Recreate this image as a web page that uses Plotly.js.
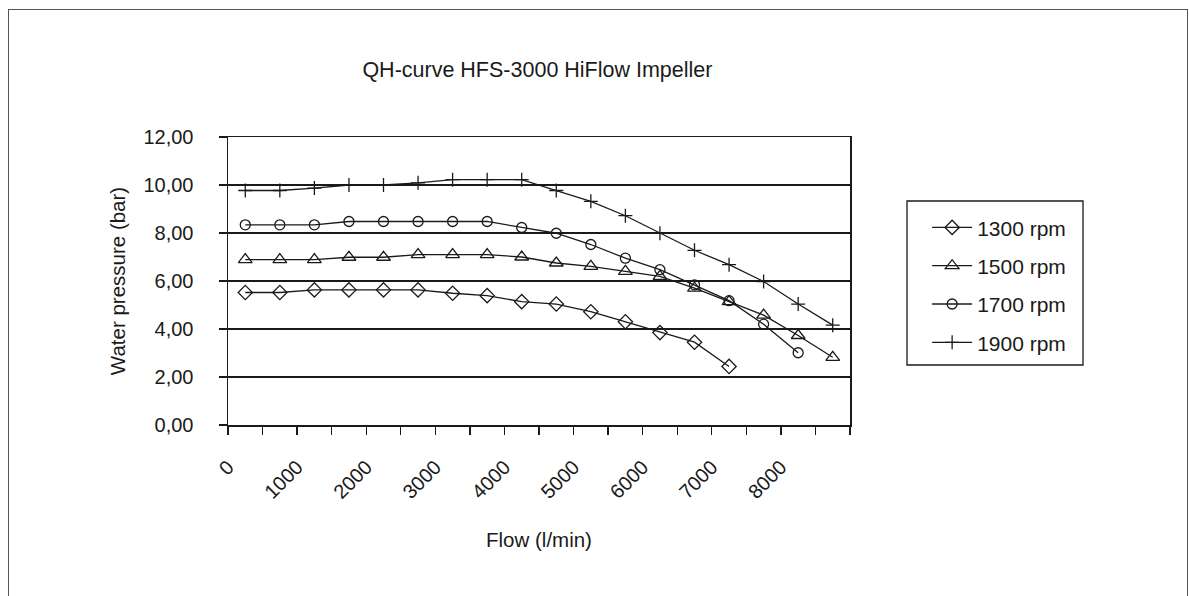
<!DOCTYPE html>
<html>
<head>
<meta charset="utf-8">
<script src="https://cdn.plot.ly/plotly-3.0.1.min.js"></script>
<style>
  html, body { margin: 0; padding: 0; background: #fff; }
  #wrap { position: relative; width: 1189px; height: 596px; overflow: hidden; }
  #chart { position: absolute; left: 0; top: 0; width: 1189px; height: 596px; }
  #frame { position: absolute; left: 8px; top: 9px; width: 1178px; height: 600px; border: 1px solid #555; pointer-events: none; }
</style>
</head>
<body>
<div id="wrap">
  <div id="chart"></div>
  <div id="frame"></div>
</div>
<script>
// flow in l/min, one point per category slot
const flow = [250, 750, 1250, 1750, 2250, 2750, 3250, 3750, 4250, 4750, 5250, 5750, 6250, 6750, 7250, 7750, 8250, 8750]

// water pressure in bar
const rpm1300 = [5.52, 5.52, 5.63, 5.63, 5.63, 5.63, 5.49, 5.39, 5.14, 5.04, 4.72, 4.30, 3.85, 3.45, 2.44]
const rpm1500 = [6.89, 6.89, 6.89, 6.99, 6.99, 7.10, 7.10, 7.10, 7.00, 6.75, 6.61, 6.40, 6.19, 5.70, 5.14, 4.58, 3.73, 2.82]
const rpm1700 = [8.34, 8.34, 8.34, 8.48, 8.48, 8.48, 8.48, 8.48, 8.23, 7.99, 7.52, 6.95, 6.47, 5.84, 5.18, 4.20, 3.01]
const rpm1900 = [9.77, 9.77, 9.87, 10.00, 10.00, 10.09, 10.22, 10.22, 10.22, 9.77, 9.32, 8.72, 7.99, 7.28, 6.68, 5.98, 5.04, 4.16]

const seriesNames = ["1300 rpm", "1500 rpm", "1700 rpm", "1900 rpm"]
const xTickVals = [0, 500, 1000, 1500, 2000, 2500, 3000, 3500, 4000, 4500, 5000, 5500, 6000, 6500, 7000, 7500, 8000, 8500, 9000]
const xTickText = ["0", "", "1000", "", "2000", "", "3000", "", "4000", "", "5000", "", "6000", "", "7000", "", "8000", "", ""]

const ink = "#1a1a1a"
const font = "Liberation Sans, Arial, sans-serif"

const mk = (name, ys, symbol, size) => ({
  x: flow.slice(0, ys.length), y: ys, name, type: "scatter", mode: "lines+markers",
  legendgroup: name,
  line: {color: ink, width: 1.3},
  marker: {symbol, size, color: ink, line: {color: ink, width: 1.3}}
})

const data = [
  mk(seriesNames[0], rpm1300, "diamond-open", 11),
  mk(seriesNames[1], rpm1500, "triangle-up-open", 12),
  mk(seriesNames[2], rpm1700, "circle-open", 10),
  mk(seriesNames[3], rpm1900, "cross-thin-open", 10)
]

// plot area: x 228..850, y 137..425
const layout = {
  width: 1189, height: 596,
  margin: {l: 228, r: 339, t: 137, b: 171},
  paper_bgcolor: "#fff", plot_bgcolor: "#fff",
  separators: ", ",
  font: {family: font, size: 20, color: ink},
  title: {text: "QH-curve HFS-3000 HiFlow Impeller", x: 0.452, xanchor: "center", y: 0.883, yanchor: "middle", font: {size: 21.5}},
  xaxis: {
    range: [0, 9000], tickmode: "array", tickvals: xTickVals, ticktext: xTickText,
    tickangle: -45, ticks: "outside", ticklen: 8, tickwidth: 1.3, tickcolor: ink,
    ticklabelstandoff: 13,
    showgrid: false, zeroline: false, showline: true, linecolor: ink, linewidth: 1.5, mirror: true,
    tickfont: {size: 20},
    title: {text: "Flow (l/min)", standoff: 31, font: {size: 20.5}}
  },
  yaxis: {
    range: [0, 12], dtick: 2, tickformat: ".2f",
    ticks: "outside", ticklen: 8, tickwidth: 1.3, tickcolor: ink,
    ticklabelstandoff: 21,
    showgrid: true, gridcolor: ink, gridwidth: 2,
    zeroline: false, showline: true, linecolor: ink, linewidth: 1.5, mirror: true,
    tickfont: {size: 20},
    title: {text: "Water pressure (bar)", standoff: 12, font: {size: 20.5}}
  },
  legend: {
    x: 1.124, xanchor: "left", y: 0.756, yanchor: "top",
    traceorder: "grouped", tracegroupgap: 8, itemwidth: 40,
    bgcolor: "rgba(0,0,0,0)", borderwidth: 0,
    font: {size: 21}
  },
  shapes: [{
    type: "rect", xref: "paper", yref: "paper",
    x0: (907 - 228) / 622, x1: (1083 - 228) / 622,
    y0: (425 - 365) / 288, y1: (425 - 201) / 288,
    line: {color: ink, width: 1.3}, fillcolor: "rgba(0,0,0,0)"
  }],
  showlegend: true
}

Plotly.newPlot("chart", data, layout, {displayModeBar: false, staticPlot: true})
</script>
</body>
</html>
